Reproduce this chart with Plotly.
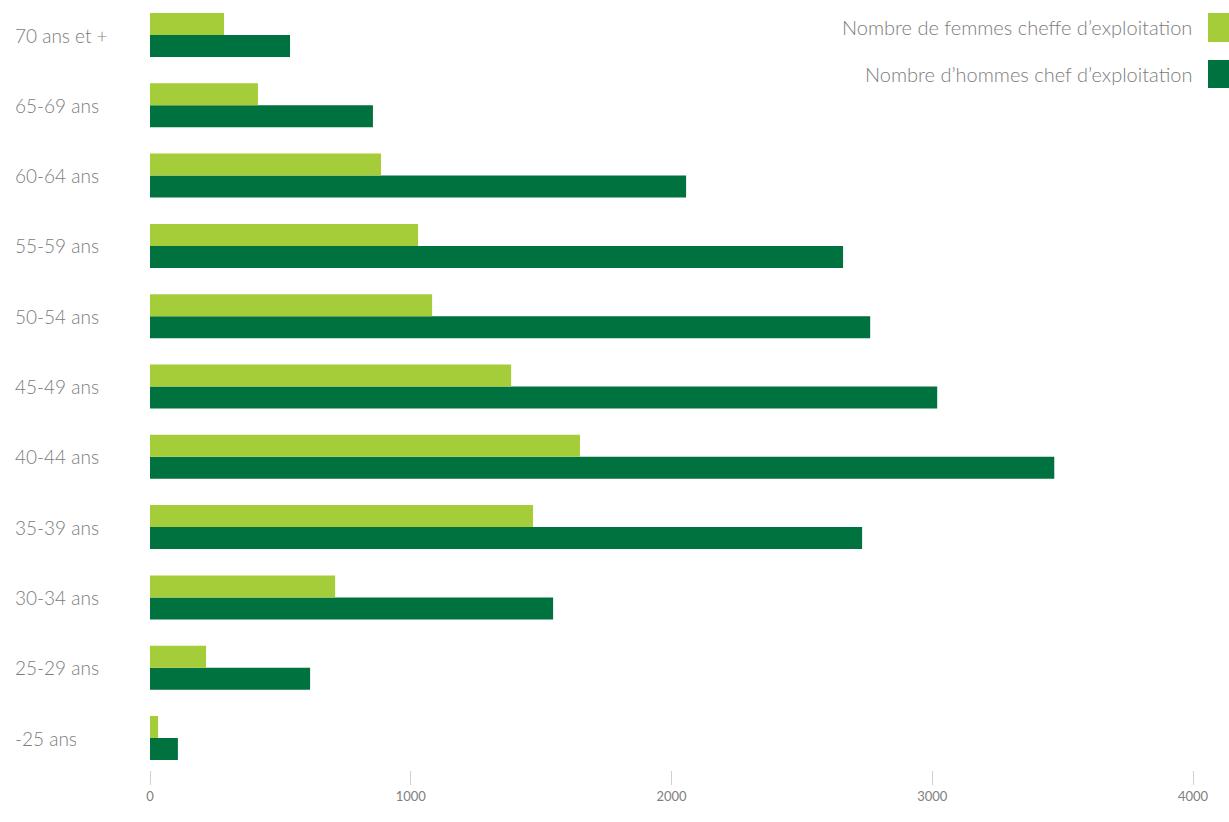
import plotly.graph_objects as go

categories = ["-25 ans", "25-29 ans", "30-34 ans", "35-39 ans", "40-44 ans", "45-49 ans",
              "50-54 ans", "55-59 ans", "60-64 ans", "65-69 ans", "70 ans et +"]
femmes = [31, 215, 710, 1469, 1649, 1385, 1082, 1028, 886, 414, 284]
hommes = [107, 614, 1546, 2731, 3468, 3019, 2762, 2658, 2056, 855, 537]
x_ticks = [0, 1000, 2000, 3000, 4000]
legend_labels = ["Nombre de femmes cheffe d\u2019exploitation", "Nombre d\u2019hommes chef d\u2019exploitation"]

C_F = "#A5CD39"
C_H = "#00723F"
GREY = "#7c7c7c"
FONT = "Lato, 'Noto Sans', sans-serif"

fig = go.Figure()
fig.add_trace(go.Bar(y=categories, x=hommes, orientation="h", marker=dict(color=C_H, line=dict(width=0)),
                     name=legend_labels[1]))
fig.add_trace(go.Bar(y=categories, x=femmes, orientation="h", marker=dict(color=C_F, line=dict(width=0)),
                     name=legend_labels[0]))

W, H = 1229, 822
L, R, T, B = 150, 36, 0, 52
pw = W - L - R
ph = H - T - B

annotations = []
for c in categories:
    annotations.append(dict(x=(13 - L) / pw, xref="paper", y=c, yref="y", text=c, showarrow=False,
                            xanchor="left", yanchor="middle",
                            font=dict(size=19, color=GREY, family=FONT, weight=300)))

shapes = []
leg_y = [(13, 42), (60, 88)]
colors = [C_F, C_H]
for lab, (y0, y1), col in zip(legend_labels, leg_y, colors):
    annotations.append(dict(x=(1194 - L) / pw, xref="paper", y=1 - ((y0 + y1) / 2) / ph, yref="paper", text=lab,
                            showarrow=False, xanchor="right", yanchor="middle",
                            font=dict(size=20, color=GREY, family=FONT, weight=300)))
    shapes.append(dict(type="rect", xref="paper", yref="paper",
                       x0=(1208 - L) / pw, x1=(1240 - L) / pw,
                       y0=1 - y1 / ph, y1=1 - y0 / ph, fillcolor=col, line=dict(width=0)))

fig.update_layout(
    width=W, height=H,
    margin=dict(l=L, r=R, t=T, b=B),
    paper_bgcolor="white", plot_bgcolor="white",
    barmode="group", bargap=0.374, bargroupgap=0,
    showlegend=False,
    annotations=annotations, shapes=shapes,
    font=dict(family=FONT, color=GREY),
)
fig.update_xaxes(range=[0, 4000], tickvals=x_ticks, ticktext=[str(v) for v in x_ticks],
                 showgrid=False, zeroline=False, showline=False,
                 ticks="outside", ticklen=14, tickcolor="#d0d0d0", tickwidth=1,
                 tickfont=dict(size=13, color="#808080", family=FONT))
fig.update_yaxes(categoryorder="array", categoryarray=categories, range=[-0.455, 10.498],
                 showticklabels=False, showgrid=False, zeroline=False, showline=False, ticks="")

fig.write_html("out.html", config={"displayModeBar": False},
               post_script="document.body.style.margin='0';document.body.style.overflow='hidden';")
